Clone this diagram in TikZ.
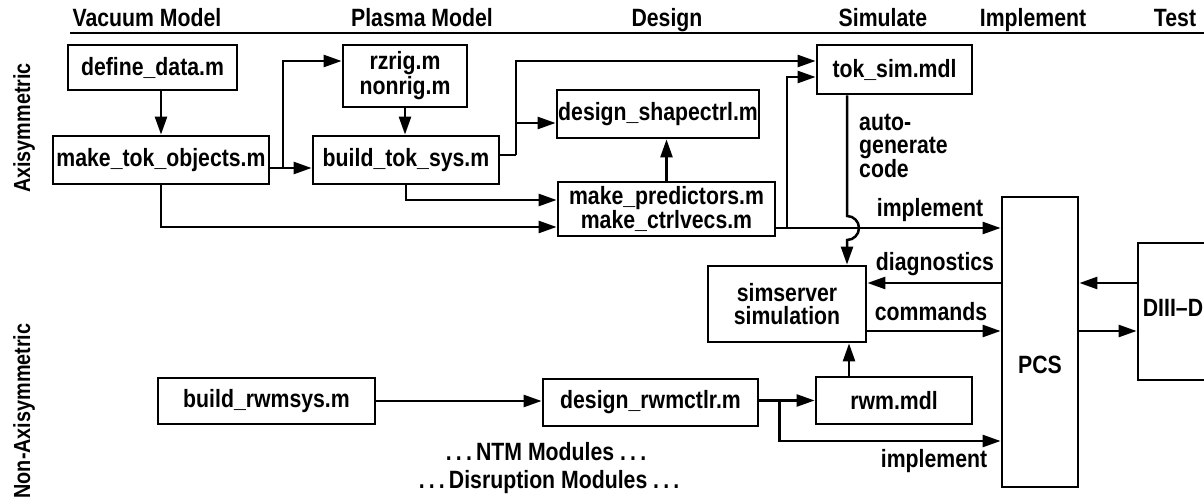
\documentclass[tikz,border=0pt]{standalone}
\usepackage{fontspec}
\setmainfont{Liberation Sans}[FakeStretch=0.85]
\usetikzlibrary{arrows.meta,calc}
\begin{document}
\begin{tikzpicture}[x=1pt,y=-1pt,
  every node/.style={font=\fontsize{25}{23}\selectfont\bfseries},
  box/.style={draw,line width=2.8pt,inner sep=0pt,align=center},
  conn/.style={line width=2.5pt},
  arr/.style={conn,-{Triangle[length=18pt,width=12pt]}},
  lbl/.style={inner sep=0pt},
  side/.style={inner sep=0pt,rotate=90,font=\fontsize{23.3}{23}\selectfont\bfseries}]
\useasboundingbox (0,0) rectangle (1204,502);
% header
\node[anchor=base,lbl] (h1) at (147,27) {Vacuum Model};
\node[anchor=base,lbl] (h2) at (422,27) {Plasma Model};
\node[anchor=base,lbl] (h3) at (667,27) {Design};
\node[anchor=base,lbl] (h4) at (883,27) {Simulate};
\node[anchor=base,lbl] (h5) at (1033,27) {Implement};
\node[anchor=base,lbl] (h6) at (1175,27) {Test};
\coordinate (hl) at (70,33);
\coordinate (hr) at (1210,33);
\draw[line width=2pt] (hl) -- (hr);
% side labels
\node[side] (sa) at (24,128) {Axisymmetric};
\node[side] (sn) at (24,411) {Non-Axisymmetric};
% boxes
\node[box,minimum width=169pt,minimum height=45pt] (dd) at (152.5,67.5) {define\_data.m};
\node[box,minimum width=216pt,minimum height=48pt] (mto) at (161,160) {make\_tok\_objects.m};
\node[box,minimum width=124pt,minimum height=62pt,font=\fontsize{25}{25}\selectfont\bfseries] (rz) at (405,76) {rzrig.m\\nonrig.m};
\node[box,minimum width=186pt,minimum height=48pt] (bts) at (406,160) {build\_tok\_sys.m};
\node[box,minimum width=202pt,minimum height=48pt] (dsc) at (658,114) {design\_shapectrl.m};
\node[box,minimum width=217pt,minimum height=54pt] (mp) at (666.5,209) {make\_predictors.m\\make\_ctrlvecs.m};
\node[box,minimum width=155pt,minimum height=49pt] (ts) at (894.5,69.5) {tok\_sim.mdl};
\node[box,minimum width=158pt,minimum height=76pt,font=\fontsize{25}{23}\selectfont\bfseries] (ss) at (787,304) {simserver\\simulation};
\node[box,minimum width=76pt,minimum height=290pt] (pcs) at (1040,342) {};
\node[lbl] (pcst) at (1040,365) {PCS};
\node[box,minimum width=100pt,minimum height=137pt] (d3) at (1188,311.5) {};
\node[lbl] (d3t) at (1173,308) {DIII–D};
\node[box,minimum width=217pt,minimum height=46pt] (brs) at (266.5,401) {build\_rwmsys.m};
\node[box,minimum width=215pt,minimum height=47pt] (drc) at (650.5,402.5) {design\_rwmctlr.m};
\node[box,minimum width=156pt,minimum height=47pt] (rwm) at (894,400.5) {rwm.mdl};
% connectors
\draw[arr] (dd.south -| mto.north) -- (mto.north);
\draw[arr] ([yshift=-8pt]mto.east) -- ([yshift=-8pt]mto.east -| bts.west);
\coordinate (ja) at (283,168);
\draw[arr] (ja) |- ([yshift=15pt]rz.west);
\draw[arr] (rz.south) -- (rz.south |- bts.north);
\draw[arr] (mto.south) |- ([yshift=-18pt]mp.west);
\draw[arr] (bts.south) |- ([yshift=9pt]mp.west);
\coordinate (jb) at (516,155);
\draw[conn] ([yshift=5pt]bts.east) -- (jb);
\draw[arr] (jb) |- ([yshift=-9pt]dsc.west);
\draw[arr] (jb) |- ([yshift=8.5pt]ts.west);
\draw[arr] (mp.north) -- (mp.north |- dsc.south);
\coordinate (jc) at (787,228);
\draw[arr] ([yshift=-19pt]mp.east) -- ([yshift=-19pt]mp.east -| pcs.west);
\draw[arr] (jc) |- ([yshift=-7.5pt]ts.west);
\coordinate (hx) at (847,228);
\draw[arr] (ts.south -| hx) -- ([yshift=12pt]hx) arc[start angle=90,end angle=-90,radius=12pt] -- (ss.north -| hx);
\draw[arr] ([yshift=59pt]pcs.west) -- ([yshift=59pt]pcs.west -| ss.east);
\draw[arr] ([yshift=-27pt]ss.east) -- ([yshift=-27pt]ss.east -| pcs.west);
\draw[arr] ([yshift=28.5pt]d3.west) -- ([yshift=28.5pt]d3.west -| pcs.east);
\draw[arr] ([yshift=-19.5pt]d3.west -| pcs.east) -- ([yshift=-19.5pt]d3.west);
\draw[arr] (brs.east) -- (brs.east -| drc.west);
\draw[arr] (drc.east |- rwm.west) -- (rwm.west);
\draw[arr] ([xshift=20pt]drc.east |- rwm.west) |- ([yshift=-99pt]pcs.west);
\draw[arr] ([xshift=-45pt]rwm.north) -- ([xshift=-45pt]rwm.north |- ss.south);
% labels
\node[lbl,align=left,anchor=north west,font=\fontsize{25}{23}\selectfont\bfseries] (ag) at (859,114) {auto-\\generate\\code};
\node[lbl] (l1) at (930,210) {implement};
\node[lbl] (l2) at (935,264) {diagnostics};
\node[lbl] (l3) at (931,312) {commands};
\node[lbl] (l4) at (934,461) {implement};
\node[lbl] (ntm) at (546,452) {.\,.\,.\,NTM Modules .\,.\,.};
\node[lbl] (dis) at (549,482) {.\,.\,.\,Disruption Modules .\,.\,.};
\end{tikzpicture}
\end{document}
